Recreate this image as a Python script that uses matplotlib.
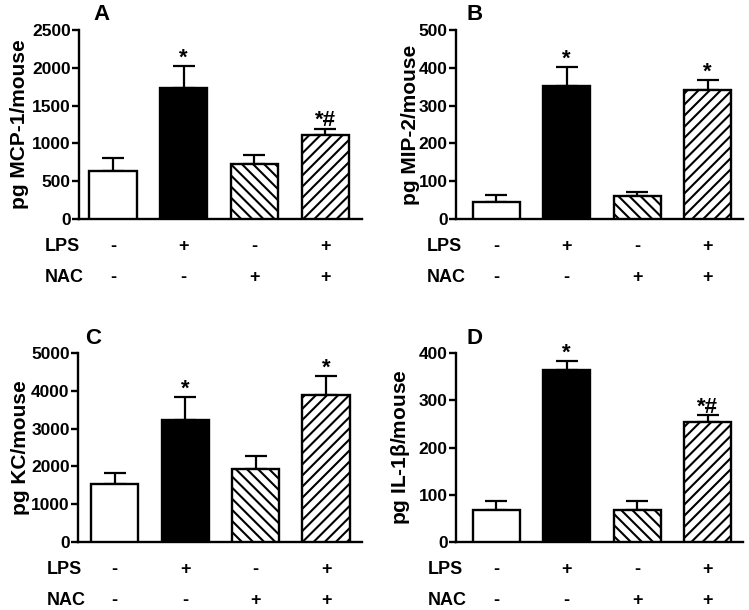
import matplotlib
matplotlib.use("Agg")
import matplotlib.pyplot as plt
import numpy as np

plt.rcParams['font.family'] = ['Liberation Sans', 'DejaVu Sans']
plt.rcParams['font.weight'] = 'bold'
plt.rcParams['hatch.linewidth'] = 1.5
plt.rcParams['mathtext.fontset'] = 'custom'
plt.rcParams['mathtext.rm'] = 'Liberation Sans'
plt.rcParams['mathtext.default'] = 'rm'

lps = ['-', '+', '-', '+']
nac = ['-', '-', '+', '+']

mcp1 = [635, 1729, 727, 1111]
mcp1_err = [176, 291, 115, 84]
mcp1_sig = ['', '*', '', '*#']

mip2 = [46, 353, 62, 341]
mip2_err = [17, 50, 10, 26]
mip2_sig = ['', '*', '', '*']

kc = [1543, 3219, 1931, 3898]
kc_err = [282, 617, 344, 502]
kc_sig = ['', '*', '', '*']

il1b = [67, 365, 67, 253]
il1b_err = [20, 19, 19, 15]
il1b_sig = ['', '*', '', '*#']

W, H = 749, 610
fig = plt.figure(figsize=(W / 100, H / 100), dpi=100)

def px_axes(l, r, t, b):
    return fig.add_axes([l / W, (H - b) / H, (r - l) / W, (b - t) / H])

panels = [
    dict(box=(79, 362, 30, 219), vals=mcp1, err=mcp1_err, sig=mcp1_sig, ymax=2500, step=500,
         ylabel='pg MCP-1/mouse', letter='A', lx=93, ly=15, xlim=(-0.48, 3.52), labx=-0.178, rowx=45),
    dict(box=(456, 743, 30, 219), vals=mip2, err=mip2_err, sig=mip2_sig, ymax=500, step=100,
         ylabel='pg MIP-2/mouse', letter='B', lx=466, ly=15, xlim=(-0.57, 3.5), labx=-0.124, rowx=427),
    dict(box=(78, 362, 353, 542), vals=kc, err=kc_err, sig=kc_sig, ymax=5000, step=1000,
         ylabel='pg KC/mouse', letter='C', lx=85, ly=338, xlim=(-0.52, 3.51), labx=-0.169, rowx=47),
    dict(box=(456, 743, 353, 542), vals=il1b, err=il1b_err, sig=il1b_sig, ymax=400, step=100,
         ylabel=r'pg IL-1$\beta$/mouse', letter='D', lx=467, ly=338, xlim=(-0.57, 3.5), labx=-0.152, rowx=428),
]

faces = ['white', 'black', 'white', 'white']
hatches = [None, None, '\\\\\\', '///']

for p in panels:
    ax = px_axes(*p['box'])
    x = np.arange(4)
    bars = ax.bar(x, p['vals'], width=0.67, color=faces, edgecolor='black', linewidth=1.7,
                  zorder=3)
    for b, h in zip(bars, hatches):
        if h:
            b.set_hatch(h)
    ax.errorbar(x, p['vals'], yerr=[np.zeros(4), p['err']], fmt='none', ecolor='black',
                elinewidth=1.6, capsize=8, capthick=1.6, zorder=2)
    for xi, v, e, s in zip(x, p['vals'], p['err'], p['sig']):
        if s:
            ax.annotate(s, (xi, v + e), xytext=(0, -2), textcoords='offset points',
                        ha='center', va='bottom', fontsize=16, fontweight='bold')
    ax.set_xlim(*p['xlim'])
    ax.set_ylim(0, p['ymax'])
    ax.set_yticks(np.arange(0, p['ymax'] + 1, p['step']))
    ax.set_xticks([])
    for sp in ['top', 'right']:
        ax.spines[sp].set_visible(False)
    for sp in ['left', 'bottom']:
        ax.spines[sp].set_linewidth(1.7)
    ax.tick_params(axis='y', direction='out', length=5, width=1.7, labelsize=12.5, pad=1)
    for lab in ax.get_yticklabels():
        lab.set_fontweight('bold')
    ax.set_ylabel(p['ylabel'], fontsize=15, fontweight='bold')
    ax.yaxis.set_label_coords(p['labx'], 0.5)
    tr = ax.get_xaxis_transform()
    for xi in x:
        ax.text(xi, -0.148, lps[xi], transform=tr, ha='center', va='center', fontsize=13,
                fontweight='bold', clip_on=False)
        ax.text(xi, -0.31, nac[xi], transform=tr, ha='center', va='center', fontsize=13,
                fontweight='bold', clip_on=False)
    bot = p['box'][3]
    fig.text(p['rowx'] / W, 1 - (bot + 0.148 * 189) / H, 'LPS', ha='left', va='center',
             fontsize=13, fontweight='bold')
    fig.text(p['rowx'] / W, 1 - (bot + 0.31 * 189) / H, 'NAC', ha='left', va='center',
             fontsize=13, fontweight='bold')
    fig.text(p['lx'] / W, 1 - p['ly'] / H, p['letter'], ha='left', va='center',
             fontsize=16, fontweight='bold')

fig.savefig('out.png', dpi=100)
